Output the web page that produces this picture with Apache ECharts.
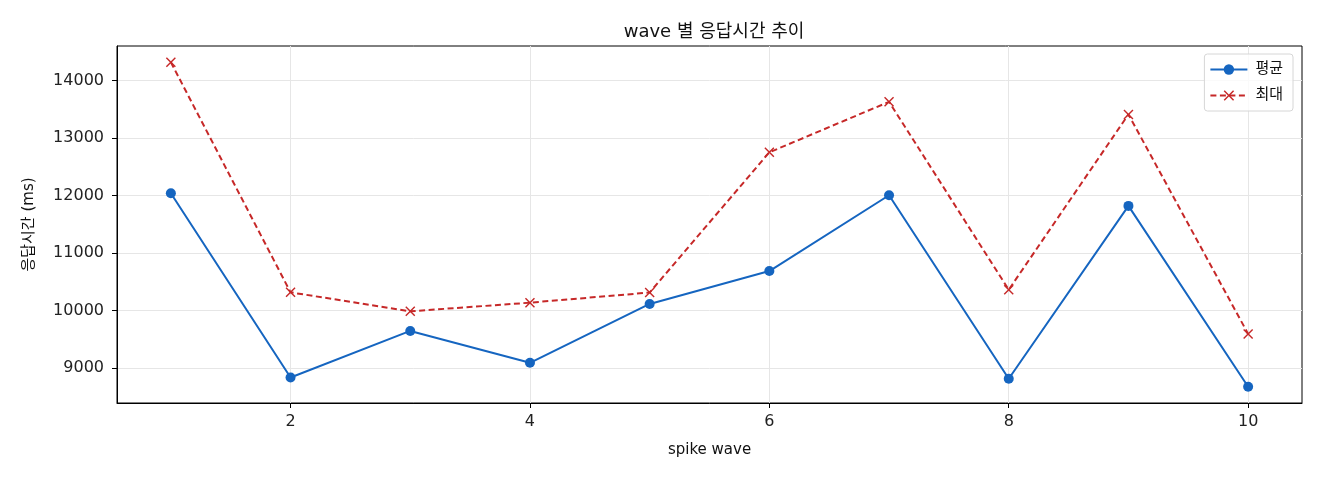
<!DOCTYPE html>
<html>
<head>
<meta charset="utf-8">
<script src="https://cdn.jsdelivr.net/npm/echarts@6/dist/echarts.min.js"></script>
<style>
  html, body { margin: 0; padding: 0; background: #fff; }
  #chart { width: 1320px; height: 480px; }
</style>
</head>
<body>
<div id="chart"></div>
<script>
// spike wave index
var waves = [1, 2, 3, 4, 5, 6, 7, 8, 9, 10];
// response times (ms)
var avgMs = [12038, 8832, 9642, 9087, 10111, 10684, 12003, 8809, 11818, 8670];
var maxMs = [14318, 10313, 9983, 10134, 10310, 12750, 13629, 10359, 13410, 9590];
var xTicks = [2, 4, 6, 8, 10];
var yTicks = [9000, 10000, 11000, 12000, 13000, 14000];

var FONT = '"DejaVu Sans", "Noto Sans CJK KR", sans-serif';
var X_MARK = 'path://M0,1L1,0L5,4L9,0L10,1L6,5L10,9L9,10L5,6L1,10L0,9L4,5Z';

function pairs(xs, ys) {
    var out = [];
    for (var i = 0; i < xs.length; i++) {
        out.push([xs[i], ys[i]]);
    }
    return out;
}

// matplotlib-like 5% margins
var allVals = avgMs.concat(maxMs);
var yLo = Math.min.apply(null, allVals), yHi = Math.max.apply(null, allVals);
var yPad = (yHi - yLo) * 0.05;
var xPad = (waves[waves.length - 1] - waves[0]) * 0.05;

var chart = echarts.init(document.getElementById('chart'), null, { renderer: 'canvas' });

var option = {
    animation: false,
    textStyle: { fontFamily: FONT },
    title: {
        text: 'wave 별 응답시간 추이',
        left: 709,
        textAlign: 'center',
        top: 18,
        textStyle: { fontFamily: FONT, fontSize: 18, fontWeight: 'normal', color: '#111' }
    },
    grid: {
        left: 117,
        right: 18,
        top: 46,
        bottom: 77,
        show: true,
        borderColor: '#000',
        borderWidth: 1,
        backgroundColor: 'transparent'
    },
    legend: {
        right: 27,
        top: 54,
        orient: 'vertical',
        itemWidth: 37,
        itemHeight: 13,
        itemGap: 11,
        padding: [8, 10, 8, 5],
        borderColor: '#d6d6d6',
        borderWidth: 1,
        borderRadius: 3,
        backgroundColor: 'rgba(255,255,255,0.8)',
        textStyle: { fontFamily: FONT, fontSize: 15, color: '#111', padding: [0, 0, 0, 3] },
        data: ['평균', '최대']
    },
    xAxis: {
        type: 'value',
        min: waves[0] - xPad,
        max: waves[waves.length - 1] + xPad,
        name: 'spike wave',
        nameLocation: 'middle',
        nameGap: 40,
        nameTextStyle: { fontFamily: FONT, fontSize: 15, color: '#111' },
        axisLine: { show: true, lineStyle: { color: '#000', width: 1 } },
        axisTick: { show: true, length: 5, lineStyle: { color: '#000' }, customValues: xTicks },
        axisLabel: {
            fontFamily: FONT, fontSize: 16, color: '#222', margin: 11,
            customValues: xTicks,
            formatter: function(v) { return String(v); }
        },
        splitLine: { show: true, lineStyle: { color: '#e6e6e6', width: 1 } }
    },
    yAxis: {
        type: 'value',
        min: yLo - yPad,
        max: yHi + yPad,
        name: '응답시간 (ms)',
        nameLocation: 'middle',
        nameGap: 80,
        nameTextStyle: { fontFamily: FONT, fontSize: 15, color: '#111' },
        axisLine: { show: true, lineStyle: { color: '#000', width: 1 } },
        axisTick: { show: true, length: 5, lineStyle: { color: '#000' }, customValues: yTicks },
        axisLabel: {
            fontFamily: FONT, fontSize: 16, color: '#222', margin: 13,
            customValues: yTicks,
            formatter: function(v) { return String(v); }
        },
        splitLine: { show: true, lineStyle: { color: '#e6e6e6', width: 1 } }
    },
    series: [
        {
            name: '평균',
            type: 'line',
            data: pairs(waves, avgMs),
            symbol: 'circle',
            symbolSize: 10,
            showAllSymbol: true,
            color: '#1565c0',
            lineStyle: { color: '#1565c0', width: 2 },
            itemStyle: { color: '#1565c0' },
            z: 3
        },
        {
            name: '최대',
            type: 'line',
            data: pairs(waves, maxMs),
            symbol: X_MARK,
            symbolSize: 10,
            showAllSymbol: true,
            color: '#c62828',
            lineStyle: { color: '#c62828', width: 2, type: [6, 3.5] },
            itemStyle: { color: '#c62828' },
            z: 2
        }
    ]
};

chart.setOption(option);
</script>
</body>
</html>
